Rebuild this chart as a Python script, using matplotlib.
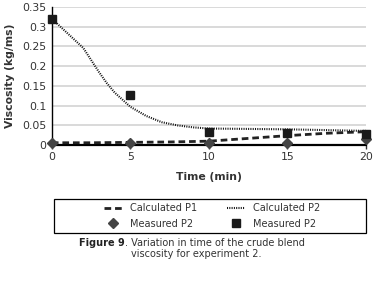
import matplotlib
matplotlib.use("Agg")
import matplotlib.pyplot as plt
from matplotlib.patches import Rectangle

# data
t_calc = [0, 2.5, 5, 7.5, 10, 12.5, 15, 17.5, 20]
calc_p1 = [0.006, 0.006, 0.007, 0.008, 0.010, 0.017, 0.024, 0.030, 0.034]

t_calc2 = [0, 1, 2, 3, 3.5, 4, 5, 6, 7, 8, 9, 10, 12.5, 15, 17.5, 20]
calc_p2 = [0.320, 0.283, 0.246, 0.185, 0.157, 0.133, 0.097, 0.074, 0.058,
           0.050, 0.045, 0.042, 0.041, 0.040, 0.038, 0.036]

t_meas = [0, 5, 10, 15, 20]
meas_diamond = [0.005, 0.005, 0.006, 0.006, 0.015]
meas_square = [0.318, 0.127, 0.032, 0.031, 0.027]

plt.rcParams['font.family'] = ['DejaVu Sans']

fig = plt.figure(figsize=(3.73, 2.98), dpi=100)
ax = fig.add_axes([0.139, 0.513, 0.842, 0.464])

l1, = ax.plot(t_calc, calc_p1, color='#222222', lw=2.0, dashes=(2.4, 1.4),
              label='Calculated P1', zorder=3)
l2, = ax.plot(t_calc2, calc_p2, color='#111111', lw=1.5, dashes=(0.5, 0.6),
              label='Calculated P2', zorder=3)
m1, = ax.plot(t_meas, meas_diamond, 'D', color='#444444', ms=5.2, ls='none',
              label='Measured P2', zorder=4, clip_on=False)
m2, = ax.plot(t_meas, meas_square, 's', color='#1a1a1a', ms=6.2, ls='none',
              label='Measured P2', zorder=4, clip_on=False)

ax.set_xlim(0, 20)
ax.set_ylim(0, 0.35)
ax.set_xticks([0, 5, 10, 15, 20])
ax.set_yticks([0, 0.05, 0.1, 0.15, 0.2, 0.25, 0.3, 0.35])
ax.set_yticklabels(['0', '0.05', '0.1', '0.15', '0.2', '0.25', '0.3', '0.35'])
ax.grid(axis='y', color='#d9d9d9', lw=1.4)
ax.set_axisbelow(True)
ax.spines['top'].set_visible(False)
ax.spines['right'].set_visible(False)
ax.spines['left'].set_linewidth(1.0)
ax.spines['bottom'].set_linewidth(1.6)
ax.tick_params(axis='x', length=3, width=1, labelsize=7.8, colors='#333333', pad=2)
ax.tick_params(axis='y', length=0, labelsize=7.8, colors='#333333', pad=4)
ax.set_xlabel('Time (min)', fontsize=7.8, fontweight='bold', color='#333333', labelpad=7)
ax.set_ylabel('Viscosity (kg/ms)', fontsize=7.8, fontweight='bold', color='#333333', labelpad=5)

# legend frame drawn separately, wider than the entries
fig.patches.append(Rectangle((54 / 373, 1 - 233 / 298), 312 / 373, 34 / 298,
                             transform=fig.transFigure, fill=False,
                             edgecolor='black', lw=0.9))
leg = fig.legend([l1, m1, l2, m2],
                 ['Calculated P1', 'Measured P2', 'Calculated P2', 'Measured P2'],
                 loc='center', bbox_to_anchor=(212 / 373, 1 - 216 / 298),
                 ncol=2, fontsize=7, frameon=False, handlelength=1.9,
                 handletextpad=0.8, labelspacing=0.55, columnspacing=3.0,
                 borderaxespad=0)
for txt in leg.get_texts():
    txt.set_color('#333333')

fig.text(125 / 373, 1 - 243 / 298, 'Figure 9', ha='right', va='center',
         fontsize=7, fontweight='bold', color='#222222')
fig.text(125 / 373, 1 - 243 / 298, '. Variation in time of the crude blend',
         ha='left', va='center', fontsize=7, color='#333333')
fig.text(196 / 373, 1 - 254 / 298, 'viscosity for experiment 2.',
         ha='center', va='center', fontsize=7, color='#333333')

fig.savefig('out.png', dpi=100)
